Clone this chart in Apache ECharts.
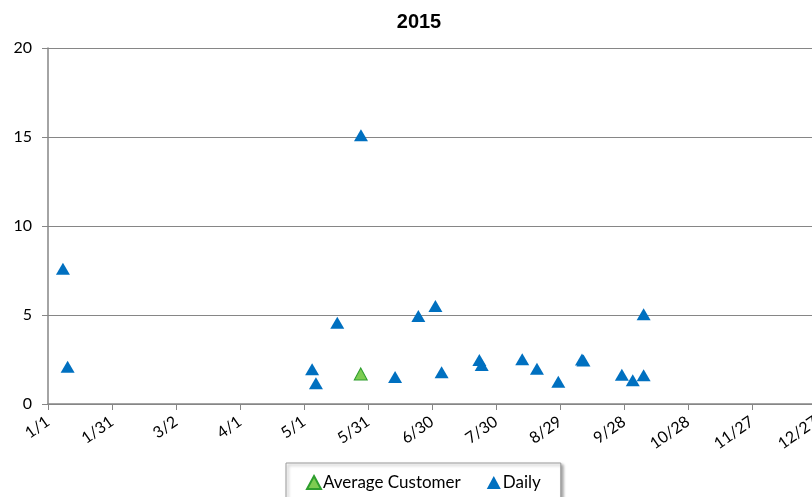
<!DOCTYPE html>
<html><head><meta charset="utf-8">
<script src="https://cdn.jsdelivr.net/npm/echarts@6/dist/echarts.min.js"></script>
<style>html,body{margin:0;padding:0;background:#fff;overflow:hidden;width:812px;height:497px}#c{width:840px;height:497px}</style>
</head><body><div id="c"></div>
<script>
// x values are days since 1/1/2015
const title = "2015";
const yTicks = [0, 5, 10, 15, 20];
const dailyDays = [7.0, 9.2, 123.8, 125.6, 135.6, 146.7, 162.7, 173.6, 181.6, 184.5, 202.2, 203.3, 222.3, 229.2, 239.2, 250.3, 251.0, 269.0, 274.1, 279.2, 279.2];
const dailyVals = [7.6, 2.09, 1.95, 1.16, 4.57, 15.1, 1.52, 4.94, 5.5, 1.78, 2.47, 2.19, 2.51, 1.98, 1.25, 2.5, 2.45, 1.65, 1.33, 1.61, 5.04];
const avgDays = [146.6];
const avgVals = [1.69];

const chart = echarts.init(document.getElementById('c'));
const base = Date.UTC(2015, 0, 1);
function fmt(v) { const d = new Date(base + v * 86400000); return (d.getUTCMonth() + 1) + '/' + d.getUTCDate(); }
const font = 'Lato, "Open Sans", sans-serif';
chart.setOption({
  animation: false,
  title: { text: title, left: 414, textAlign: 'center', top: 7, textStyle: { fontFamily: 'Liberation Sans, Arial', fontWeight: 'bold', fontSize: 20, color: '#000' } },
  grid: { left: 48, top: 48, right: 24, bottom: 93 },
  xAxis: {
    type: 'value', min: 0, max: 360, interval: 30,
    axisLine: { lineStyle: { color: '#868686', width: 1.5 } },
    axisTick: { show: true, length: 6, lineStyle: { color: '#868686' } },
    splitLine: { show: false },
    axisLabel: { formatter: fmt, rotate: 35, margin: 16, fontSize: 16, fontFamily: font, color: '#000' }
  },
  yAxis: {
    type: 'value', min: yTicks[0], max: yTicks[yTicks.length - 1], interval: 5,
    axisLine: { show: true, lineStyle: { color: '#868686', width: 1.5 } },
    axisTick: { show: true, length: 6, lineStyle: { color: '#868686' } },
    splitLine: { show: true, lineStyle: { color: '#868686', width: 1.2 } },
    axisLabel: { margin: 16, fontSize: 16, fontFamily: font, color: '#000' }
  },
  legend: {
    left: 286, top: 463, width: 266, height: 40, padding: [11, 20, 20, 20], itemGap: 26,
    backgroundColor: '#fff', borderColor: '#9a9a9a', borderWidth: 1,
    shadowColor: 'rgba(0,0,0,0.35)', shadowBlur: 3, shadowOffsetX: 2, shadowOffsetY: 2,
    itemWidth: 14, itemHeight: 13,
    textStyle: { fontFamily: font, fontSize: 17, color: '#000', padding: [0, 0, 0, -3] },
    data: ['Average Customer', 'Daily']
  },
  series: [
    { name: 'Average Customer', type: 'scatter', symbol: 'triangle', symbolSize: [13, 12],
      itemStyle: { color: '#7dcc52', borderColor: '#2e9e2e', borderWidth: 1, opacity: 1 },
      data: avgDays.map((d, i) => [d, avgVals[i]]), z: 3 },
    { name: 'Daily', type: 'scatter', symbol: 'triangle', symbolSize: [14, 12],
      itemStyle: { color: '#0070C0', opacity: 1 },
      data: dailyDays.map((d, i) => [d, dailyVals[i]]), z: 2 }
  ]
});
</script></body></html>
